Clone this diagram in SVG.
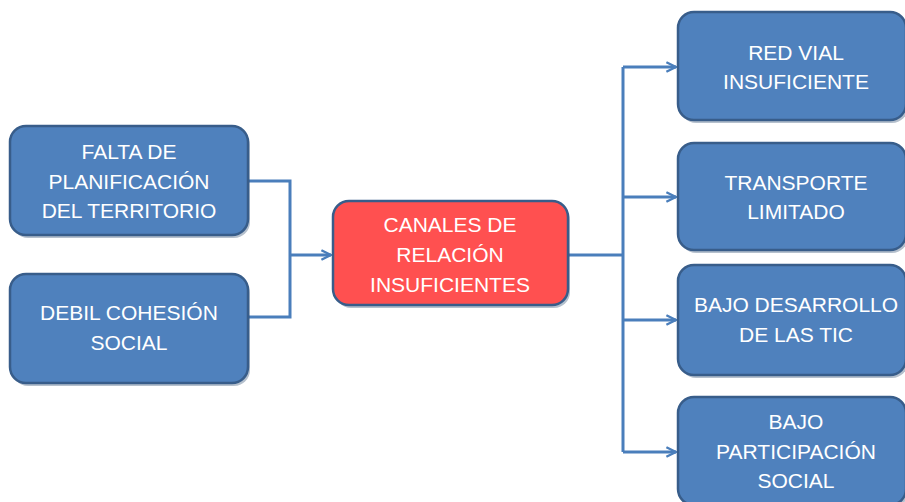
<svg xmlns="http://www.w3.org/2000/svg" width="905" height="502" viewBox="0 0 905 502">
<defs>
<style>
.box{fill:#4F81BD;stroke:#385D8A;stroke-width:2.5}
.red{fill:#FF5050;stroke:#385D8A;stroke-width:2.5}
.sh{fill:#2a4a70;opacity:0.35}
.t{font-family:"Liberation Sans",Arial,sans-serif;font-size:21px;fill:#ffffff;text-anchor:middle}
.c{fill:none;stroke:#4A7EBB;stroke-width:3}
</style>
<marker id="ah" viewBox="0 0 10 10" refX="9" refY="5" markerWidth="4" markerHeight="4" orient="auto" markerUnits="strokeWidth">
<path d="M1,1 L9,5 L1,9" fill="none" stroke="#4A7EBB" stroke-width="2"/>
</marker>
</defs>
<rect width="905" height="502" fill="#ffffff"/>
<g id="connectors">
<polyline class="c" points="248,181 290,181 290,317 248,317"/>
<line class="c" x1="290" y1="255" x2="331" y2="255" marker-end="url(#ah)"/>
<line class="c" x1="568" y1="255" x2="623" y2="255"/>
<line class="c" x1="623" y1="67" x2="623" y2="452"/>
<line class="c" x1="623" y1="67" x2="676" y2="67" marker-end="url(#ah)"/>
<line class="c" x1="623" y1="197" x2="676" y2="197" marker-end="url(#ah)"/>
<line class="c" x1="623" y1="320" x2="676" y2="320" marker-end="url(#ah)"/>
<line class="c" x1="623" y1="452" x2="676" y2="452" marker-end="url(#ah)"/>
</g>
<g id="n-falta">
<rect class="sh" x="12" y="129" width="238" height="109" rx="16"/>
<rect class="box" x="10" y="126" width="238" height="109" rx="16"/>
<text class="t" x="129" y="159">FALTA DE</text>
<text class="t" x="129" y="189">PLANIFICACIÓN</text>
<text class="t" x="129" y="218">DEL TERRITORIO</text>
</g>
<g id="n-debil">
<rect class="sh" x="12" y="277" width="238" height="109" rx="16"/>
<rect class="box" x="10" y="274" width="238" height="109" rx="16"/>
<text class="t" x="129" y="320">DEBIL COHESIÓN</text>
<text class="t" x="129" y="350">SOCIAL</text>
</g>
<g id="n-canales">
<rect class="sh" x="335" y="204" width="235" height="104" rx="16"/>
<rect class="red" x="333" y="201" width="235" height="104" rx="16"/>
<text class="t" x="450" y="232">CANALES DE</text>
<text class="t" x="450" y="262">RELACIÓN</text>
<text class="t" x="450" y="292">INSUFICIENTES</text>
</g>
<g id="n-red">
<rect class="sh" x="680" y="15" width="228" height="108" rx="16"/>
<rect class="box" x="678" y="12" width="228" height="108" rx="16"/>
<text class="t" x="796" y="60">RED VIAL</text>
<text class="t" x="796" y="89">INSUFICIENTE</text>
</g>
<g id="n-transporte">
<rect class="sh" x="680" y="146" width="228" height="107" rx="16"/>
<rect class="box" x="678" y="143" width="228" height="107" rx="16"/>
<text class="t" x="796" y="190">TRANSPORTE</text>
<text class="t" x="796" y="219">LIMITADO</text>
</g>
<g id="n-tic">
<rect class="sh" x="680" y="268" width="228" height="110" rx="16"/>
<rect class="box" x="678" y="265" width="228" height="110" rx="16"/>
<text class="t" x="796" y="312">BAJO DESARROLLO</text>
<text class="t" x="796" y="342">DE LAS TIC</text>
</g>
<g id="n-participacion">
<rect class="sh" x="680" y="400" width="228" height="108" rx="16"/>
<rect class="box" x="678" y="397" width="228" height="108" rx="16"/>
<text class="t" x="796" y="429">BAJO</text>
<text class="t" x="796" y="459">PARTICIPACIÓN</text>
<text class="t" x="796" y="488">SOCIAL</text>
</g>
</svg>
